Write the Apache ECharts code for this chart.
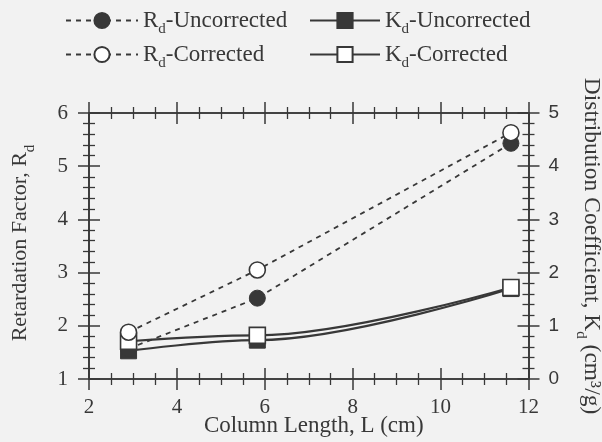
<!DOCTYPE html>
<html><head><meta charset="utf-8">
<script src="https://cdn.jsdelivr.net/npm/echarts@6/dist/echarts.min.js"></script>
<style>html,body{margin:0;padding:0;background:#f2f2f2}#c{width:602px;height:442px}</style>
</head><body><div id="c"></div>
<script>
// ---- data ----
const columnLength   = [2.9, 5.83, 11.6];
const rdUncorrected  = [1.57, 2.52, 5.43];
const rdCorrected    = [1.88, 3.05, 5.63];
const kdUncorrected  = [0.53, 0.73, 1.70];
const kdCorrected    = [0.71, 0.82, 1.72];
const seriesNames    = ['Rd-Uncorrected', 'Rd-Corrected', 'Kd-Uncorrected', 'Kd-Corrected'];
const xAxisTicks     = [2, 4, 6, 8, 10, 12];
const rdAxisTicks    = [1, 2, 3, 4, 5, 6];
const kdAxisTicks    = [0, 1, 2, 3, 4, 5];

const INK = '#383838';
const SERIF = 'Liberation Serif';
const SANS = 'Liberation Sans';
const legendRich = { sub: { fontSize: 15, fontFamily: SERIF, color: INK, padding: [18, 0, 0, 0] } };
const nameRich = { sub: { fontSize: 15, fontFamily: SERIF, color: INK, padding: [20, 0, 0, 0] } };

function pairs(xs, ys) { return xs.map((x, i) => [x, ys[i]]); }
function rng(t) { return { min: t[0], max: t[t.length - 1], interval: t[1] - t[0] }; }

function axis(ticks, position, inside, minorSplit, extra) {
  return Object.assign({
    type: 'value', position: position, ...rng(ticks),
    nameMoveOverlap: false,
    axisLine: { show: true, onZero: false, lineStyle: { color: INK, width: 1.6 } },
    axisTick: { show: true, inside: inside, length: 11, lineStyle: { color: INK, width: 1.5 } },
    minorTick: { show: true, splitNumber: minorSplit, length: 6, lineStyle: { color: INK, width: 1.3 } },
    axisLabel: { show: false },
    splitLine: { show: false },
    minorSplitLine: { show: false }
  }, extra || {});
}

function legendBox(names, left, width) {
  return {
    data: names, orient: 'vertical', left: left, top: 4,
    itemWidth: width, itemHeight: 19, itemGap: 6, selectedMode: false,
    formatter: n => n.replace(/^([RK])d/, '$1{sub|d}'),
    textStyle: { fontFamily: SERIF, fontSize: 23, color: INK, rich: legendRich }
  };
}

const chart = echarts.init(document.getElementById('c'), null, { renderer: 'canvas' });
chart.setOption({
  backgroundColor: '#f2f2f2',
  animation: false,
  grid: { left: 89, right: 73.5, top: 113, bottom: 63, outerBoundsMode: 'none' },
  legend: [
    legendBox([seriesNames[0], seriesNames[1]], 60, 72),
    legendBox([seriesNames[2], seriesNames[3]], 304, 70)
  ],
  xAxis: [
    axis(xAxisTicks, 'bottom', false, 4, {
      axisLabel: { show: true, margin: 18, fontFamily: SERIF, fontSize: 21, color: INK },
      name: 'Column Length, L (cm)', nameLocation: 'middle', nameGap: 35,
      nameTextStyle: { fontFamily: SERIF, fontSize: 23, color: INK, padding: [0, 0, 0, 10] }
    }),
    axis(xAxisTicks, 'bottom', true, 4),
    axis(xAxisTicks, 'top', true, 4),
    axis(xAxisTicks, 'top', false, 4)
  ],
  yAxis: [
    axis(rdAxisTicks, 'left', false, 5, {
      axisLabel: { show: true, margin: 21, fontFamily: SERIF, fontSize: 21, color: INK },
      name: 'Retardation Factor, R{sub|d}', nameLocation: 'middle', nameGap: 51,
      nameTextStyle: { fontFamily: SERIF, fontSize: 22, color: INK, rich: nameRich, padding: [0, 0, 0, 6] }
    }),
    axis(rdAxisTicks, 'left', true, 5),
    axis(kdAxisTicks, 'right', false, 5, {
      axisLabel: { show: true, margin: 20, fontFamily: SANS, fontSize: 19, color: INK },
      name: 'Distribution Coefficient, K{sub|d} (cm³/g)', nameLocation: 'middle', nameGap: 45, nameRotate: -90,
      nameTextStyle: { fontFamily: SERIF, fontSize: 23.5, color: INK, rich: nameRich }
    }),
    axis(kdAxisTicks, 'right', true, 5)
  ],
  series: [
    {
      name: seriesNames[2], type: 'line', xAxisIndex: 0, yAxisIndex: 2,
      data: pairs(columnLength, kdUncorrected), smooth: 0.35, smoothMonotone: 'x',
      symbol: 'rect', symbolSize: 16,
      itemStyle: { color: INK, borderColor: INK, borderWidth: 1 },
      lineStyle: { color: INK, width: 2.2, type: 'solid' }
    },
    {
      name: seriesNames[0], type: 'line', xAxisIndex: 0, yAxisIndex: 0,
      data: pairs(columnLength, rdUncorrected),
      symbol: 'circle', symbolSize: 16,
      itemStyle: { color: INK, borderColor: INK, borderWidth: 1 },
      lineStyle: { color: INK, width: 1.8, type: [5, 5] }
    },
    {
      name: seriesNames[3], type: 'line', xAxisIndex: 0, yAxisIndex: 2,
      data: pairs(columnLength, kdCorrected), smooth: 0.35, smoothMonotone: 'x',
      symbol: 'rect', symbolSize: 16,
      itemStyle: { color: '#ffffff', borderColor: INK, borderWidth: 1.6 },
      lineStyle: { color: INK, width: 2.2, type: 'solid' }
    },
    {
      name: seriesNames[1], type: 'line', xAxisIndex: 0, yAxisIndex: 0,
      data: pairs(columnLength, rdCorrected),
      symbol: 'circle', symbolSize: 16,
      itemStyle: { color: '#ffffff', borderColor: INK, borderWidth: 1.6 },
      lineStyle: { color: INK, width: 1.8, type: [5, 5] }
    }
  ]
});
</script></body></html>
